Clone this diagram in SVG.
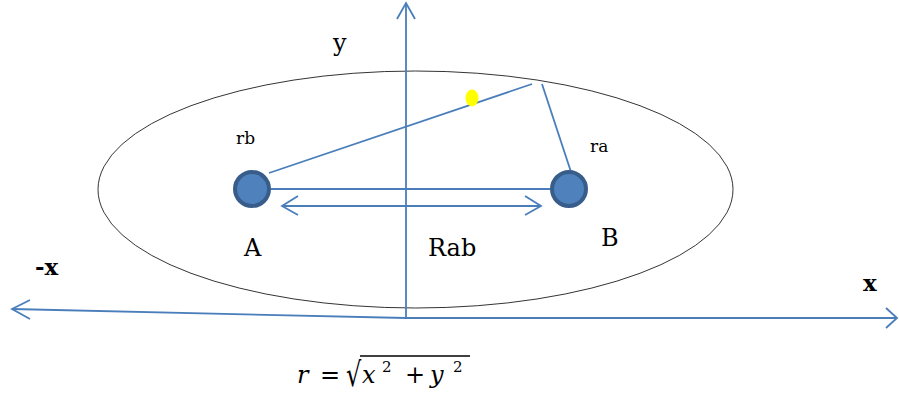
<svg xmlns="http://www.w3.org/2000/svg" width="899" height="394" viewBox="0 0 899 394">
<style>
.ln{stroke:#4a7ebb;stroke-width:1.8;fill:none}
.node{fill:#4f81bd;stroke:#385d8a;stroke-width:4}
.t{font-family:"DejaVu Serif","Liberation Serif",serif;fill:#000}
.m{font-family:"DejaVu Serif","Liberation Serif",serif;font-style:italic;fill:#000;font-size:24px}
</style>
<rect width="899" height="394" fill="#fff"/>
<g id="ellipse">
<ellipse cx="415.5" cy="189.5" rx="317.5" ry="118.5" fill="none" stroke="#000" stroke-width="0.8"/>
</g>
<g id="connectors">
<line class="ln" x1="406" y1="318" x2="406" y2="3"/>
<polyline class="ln" points="397,19 406,3 415,19"/>
<line class="ln" x1="406" y1="318" x2="12" y2="309"/>
<polyline class="ln" points="30,300 12,309 30,319"/>
<line class="ln" x1="406" y1="318" x2="897" y2="318"/>
<polyline class="ln" points="886,308 897,318 886,328"/>
<line class="ln" x1="271" y1="189" x2="550" y2="189"/>
<line class="ln" x1="282" y1="206" x2="541" y2="206"/>
<polyline class="ln" points="298,196 282,206 298,215"/>
<polyline class="ln" points="525,196 541,206 525,215"/>
<line class="ln" x1="269" y1="173" x2="532" y2="84"/>
<line class="ln" x1="542" y1="84" x2="571" y2="172"/>
</g>
<g id="yellow"><ellipse cx="472" cy="98" rx="6.5" ry="8.5" fill="#ffff00"/></g>
<g id="nodeA"><circle class="node" cx="252" cy="189" r="17"/><text class="t" x="244" y="256" font-size="24">A</text></g>
<g id="nodeB"><circle class="node" cx="569" cy="189" r="17"/><text class="t" x="601" y="246" font-size="24">B</text></g>
<g id="labels">
<text class="t" x="333" y="51" font-size="24">y</text>
<text class="t" x="236" y="144" font-size="17">rb</text>
<text class="t" x="590" y="152" font-size="17">ra</text>
<text class="t" x="428" y="256" font-size="24">Rab</text>
<text class="t" x="35" y="275" font-size="23" font-weight="bold">-x</text>
<text class="t" x="863" y="291" font-size="23" font-weight="bold">x</text>
</g>
<g id="equation">
<text class="m" x="297" y="383">r</text>
<text class="t" x="320" y="383" font-size="24">=</text>
<text class="t" font-size="24" transform="translate(346,386) scale(1,1.4)">√</text>
<line x1="360" y1="356" x2="470" y2="356" stroke="#000" stroke-width="1.6"/>
<text class="m" x="362" y="383">x</text>
<text class="t" x="382" y="372" font-size="15">2</text>
<text class="t" x="405" y="383" font-size="24">+</text>
<text class="m" x="430" y="383">y</text>
<text class="t" x="453" y="372" font-size="15">2</text>
</g>
</svg>
